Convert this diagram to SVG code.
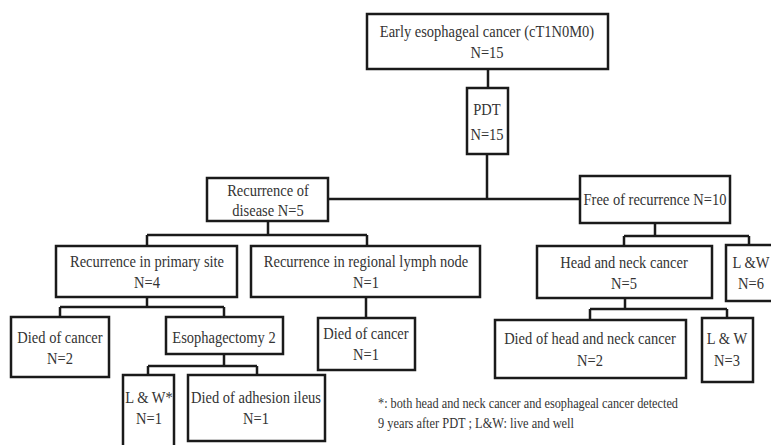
<svg xmlns="http://www.w3.org/2000/svg" width="771" height="445" viewBox="0 0 771 445">
<style>
.box{fill:#fff;stroke:#1a1a1a;stroke-width:2.5}
.ln{fill:none;stroke:#1a1a1a;stroke-width:2.5}
text{font-family:"Liberation Serif","Times New Roman",serif;font-size:14.5px;fill:#333;text-anchor:middle;transform-box:fill-box;transform-origin:center;transform:scaleY(1.2)}
.fn{font-size:12.5px;text-anchor:start;transform:scaleY(1.1)}
</style>
<rect width="771" height="445" fill="#fff"/>
<g id="connectors">
<path class="ln" d="M488 69V88M487 154V199M328 199H580"/>
<path class="ln" d="M268 221V235M147 235H367M147 235V246M367 235V246"/>
<path class="ln" d="M655 223V236M624 236H749M624 236V246M749 236V246"/>
<path class="ln" d="M147 297V307M60 307H224M60 307V317M224 307V317"/>
<path class="ln" d="M224 354V366M148 366H257M148 366V375M257 366V375"/>
<path class="ln" d="M366 297V318"/>
<path class="ln" d="M625 298V309M590 309H727M590 309V320M727 309V318"/>
</g>
<g id="n-early"><rect class="box" x="367" y="14" width="241" height="55"/><text x="487" y="36">Early esophageal cancer (cT1N0M0)</text><text x="487" y="57">N=15</text></g>
<g id="n-pdt"><rect class="box" x="467" y="88" width="41" height="66"/><text x="487" y="114">PDT</text><text x="487" y="139">N=15</text></g>
<g id="n-recur"><rect class="box" x="207" y="178" width="121" height="43"/><text x="268" y="195">Recurrence of</text><text x="268" y="215">disease N=5</text></g>
<g id="n-free"><rect class="box" x="580" y="176" width="150" height="47"/><text x="655" y="204">Free of recurrence N=10</text></g>
<g id="n-primary"><rect class="box" x="56" y="246" width="181" height="51"/><text x="147" y="266">Recurrence in primary site</text><text x="147" y="287">N=4</text></g>
<g id="n-regional"><rect class="box" x="251" y="246" width="229" height="51"/><text x="366" y="266">Recurrence in regional lymph node</text><text x="366" y="287">N=1</text></g>
<g id="n-headneck"><rect class="box" x="537" y="246" width="175" height="52"/><text x="624" y="267">Head and neck cancer</text><text x="624" y="288">N=5</text></g>
<g id="n-lw6"><rect class="box" x="726" y="245" width="50" height="56"/><text x="751" y="267">L &amp;W</text><text x="751" y="288">N=6</text></g>
<g id="n-died2"><rect class="box" x="11" y="317" width="98" height="60"/><text x="60" y="342">Died of cancer</text><text x="60" y="363">N=2</text></g>
<g id="n-esoph"><rect class="box" x="166" y="317" width="117" height="37"/><text x="224" y="342">Esophagectomy 2</text></g>
<g id="n-died1"><rect class="box" x="318" y="318" width="97" height="52"/><text x="366" y="338">Died of cancer</text><text x="366" y="359">N=1</text></g>
<g id="n-diedhn"><rect class="box" x="495" y="320" width="191" height="58"/><text x="590" y="343">Died of head and neck cancer</text><text x="590" y="365">N=2</text></g>
<g id="n-lw3"><rect class="box" x="702" y="318" width="51" height="64"/><text x="727" y="343">L &amp; W</text><text x="727" y="365">N=3</text></g>
<g id="n-lwstar"><rect class="box" x="123" y="375" width="51" height="75"/><text x="149" y="402">L &amp; W*</text><text x="149" y="423">N=1</text></g>
<g id="n-adhesion"><rect class="box" x="188" y="375" width="137" height="66"/><text x="256" y="402">Died of adhesion ileus</text><text x="256" y="423">N=1</text></g>
<g id="footnote"><text class="fn" x="378" y="408" textLength="300" lengthAdjust="spacingAndGlyphs">*: both head and neck cancer and esophageal cancer detected</text><text class="fn" x="378" y="428" textLength="196" lengthAdjust="spacingAndGlyphs">9 years after PDT ; L&amp;W: live and well</text></g>
</svg>
